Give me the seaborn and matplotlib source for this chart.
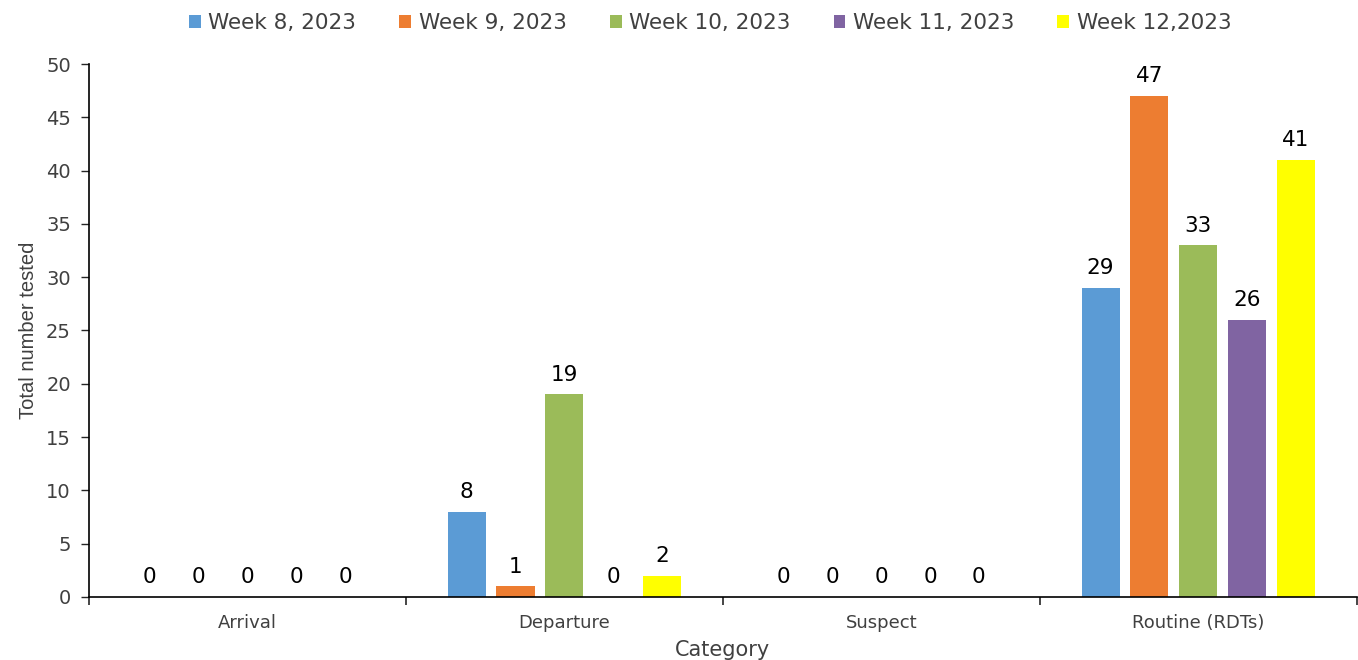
import matplotlib
matplotlib.use("Agg")
import matplotlib.pyplot as plt
import seaborn as sns
import pandas as pd
from matplotlib.patches import Patch

categories = ["Arrival", "Departure", "Suspect", "Routine (RDTs)"]
weeks = ["Week 8, 2023", "Week 9, 2023", "Week 10, 2023", "Week 11, 2023", "Week 12,2023"]
week8 = [0, 8, 0, 29]
week9 = [0, 1, 0, 47]
week10 = [0, 19, 0, 33]
week11 = [0, 0, 0, 26]
week12 = [0, 2, 0, 41]
colors = ["#5B9BD5", "#ED7D31", "#9BBB59", "#8064A2", "#FFFF00"]

rows = []
for w, vals in zip(weeks, [week8, week9, week10, week11, week12]):
    for c, v in zip(categories, vals):
        rows.append({"Category": c, "Week": w, "Value": v})
df = pd.DataFrame(rows)

sns.set_style("white")
plt.rcParams['font.family'] = ['DejaVu Sans']

fig = plt.figure(figsize=(13.58, 6.6), dpi=100)
ax = fig.add_axes([0.0655, 0.0955, 0.9335, 0.8075])

sns.barplot(data=df, x="Category", y="Value", hue="Week", order=categories,
            hue_order=weeks, palette=colors, width=0.77, gap=0.22,
            ax=ax, legend=False, edgecolor="none", saturation=1)

for cont in ax.containers:
    ax.bar_label(cont, padding=7, fontsize=15.5, color="black")

ax.set_ylim(0, 50)
ax.set_yticks(range(0, 51, 5))
ax.set_xlim(-0.5, 3.5)
ax.set_xticks([0, 1, 2, 3])
ax.set_xticklabels(categories, fontsize=13, color="#404040")
ax.tick_params(axis="x", length=0, pad=12)
ax.tick_params(axis="y", labelsize=14, labelcolor="#404040", length=6, direction="out",
               left=True, width=1, pad=7)
# category separators as minor ticks
ax.set_xticks([-0.5, 0.5, 1.5, 2.5, 3.5], minor=True)
ax.tick_params(axis="x", which="minor", length=6, width=1.2, direction="out", bottom=True)

for s in ["top", "right"]:
    ax.spines[s].set_visible(False)
for s in ["left", "bottom"]:
    ax.spines[s].set_color("black")
    ax.spines[s].set_linewidth(1.2)

ax.set_xlabel("Category", fontsize=15, color="#404040", labelpad=6)
ax.set_ylabel("Total number tested", fontsize=14.5, color="#404040",
              family=["Liberation Sans", "DejaVu Sans"], labelpad=6)

handles = [Patch(facecolor=c, edgecolor="none") for c in colors]
fig.legend(handles, weeks, loc="upper center", bbox_to_anchor=(0.523, 1.01), ncol=5,
           frameon=False, fontsize=15.5, handlelength=0.55, handleheight=0.55,
           handletextpad=0.35, columnspacing=2.0, labelcolor="#404040")

fig.savefig("out.png", dpi=100)
